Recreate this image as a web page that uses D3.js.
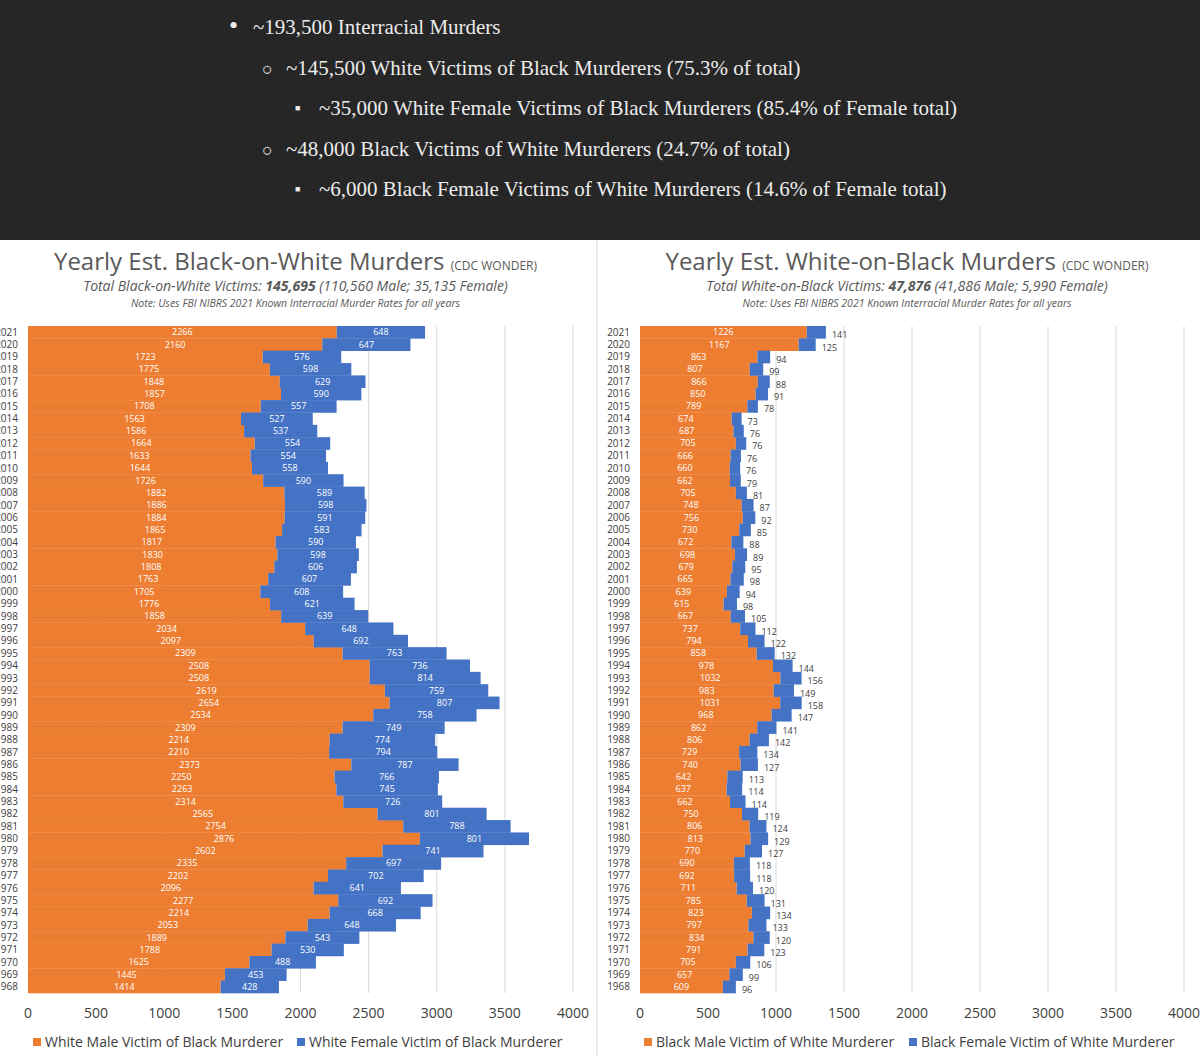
<!DOCTYPE html>
<html>
<head>
<meta charset="utf-8">
<script src="https://cdn.jsdelivr.net/npm/d3@7"></script>
<style>
  body { margin: 0; background: #fff; }
  svg { display: block; }
</style>
</head>
<body>
<svg width="1200" height="1056"></svg>
<script>
// years from top (2021) to bottom (1968)
const years = d3.range(2021, 1967, -1);

const bwMale = [2266, 2160, 1723, 1775, 1848, 1857, 1708, 1563, 1586, 1664, 1633, 1644, 1726, 1882, 1886, 1884, 1865, 1817, 1830, 1808, 1763, 1705, 1776, 1858, 2034, 2097, 2309, 2508, 2508, 2619, 2654, 2534, 2309, 2214, 2210, 2373, 2250, 2263, 2314, 2565, 2754, 2876, 2602, 2335, 2202, 2096, 2277, 2214, 2053, 1889, 1788, 1625, 1445, 1414];
const bwFemale = [648, 647, 576, 598, 629, 590, 557, 527, 537, 554, 554, 558, 590, 589, 598, 591, 583, 590, 598, 606, 607, 608, 621, 639, 648, 692, 763, 736, 814, 759, 807, 758, 749, 774, 794, 787, 766, 745, 726, 801, 788, 801, 741, 697, 702, 641, 692, 668, 648, 543, 530, 488, 453, 428];

const wbMale = [1226, 1167, 863, 807, 866, 850, 789, 674, 687, 705, 666, 660, 662, 705, 748, 756, 730, 672, 698, 679, 665, 639, 615, 667, 737, 794, 858, 978, 1032, 983, 1031, 968, 862, 806, 729, 740, 642, 637, 662, 750, 806, 813, 770, 690, 692, 711, 785, 823, 797, 834, 791, 705, 657, 609];
const wbFemale = [141, 125, 94, 99, 88, 91, 78, 73, 76, 76, 76, 76, 79, 81, 87, 92, 85, 88, 89, 95, 98, 94, 98, 105, 112, 122, 132, 144, 156, 149, 158, 147, 141, 142, 134, 127, 113, 114, 114, 119, 124, 129, 127, 118, 118, 120, 131, 134, 133, 120, 123, 106, 99, 96];

const xTicks = [0, 500, 1000, 1500, 2000, 2500, 3000, 3500, 4000];

const bannerLines = [
  { mark: '•', text: '~193,500 Interracial Murders', level: 0 },
  { mark: '○', text: '~145,500 White Victims of Black Murderers (75.3% of total)', level: 1 },
  { mark: '■', text: '~35,000 White Female Victims of Black Murderers (85.4% of Female total)', level: 2 },
  { mark: '○', text: '~48,000 Black Victims of White Murderers (24.7% of total)', level: 1 },
  { mark: '■', text: '~6,000 Black Female Victims of White Murderers (14.6% of Female total)', level: 2 }
];

const orange = '#ED7D31';
const blue = '#4472C4';
const font = "'Open Sans', 'Noto Sans', sans-serif";

const svg = d3.select('svg');

// dark banner
svg.append('rect').attr('width', 1200).attr('height', 240).attr('fill', '#262626');
const banner = svg.append('g').attr('font-family', "'Liberation Serif', 'DejaVu Serif', serif").attr('fill', '#ececec');
const markSize = [26, 18, 9];
bannerLines.forEach((l, i) => {
  const xm = 229 + l.level * 33;
  const y = 34 + i * 40.5;
  banner.append('text').attr('x', xm).attr('y', l.level === 2 ? y - 4 : y).attr('font-size', markSize[l.level]).text(l.mark);
  banner.append('text').attr('x', 253 + l.level * 33).attr('y', y).attr('font-size', 21).text(l.text);
});

// panel divider
svg.append('line').attr('x1', 597).attr('x2', 597).attr('y1', 240).attr('y2', 1056).attr('stroke', '#d9d9d9');

const drawPanel = p => {
  const g = svg.append('g');
  const x = d3.scaleLinear().domain([0, 4000]).range(p.xRange);
  const y = d3.scaleBand().domain(years).range([326, 993]).padding(0);
  const cx = (p.xRange[0] + p.xRange[1]) / 2 - 5;

  // title
  const t = g.append('text').attr('x', cx).attr('y', 270).attr('text-anchor', 'middle')
    .attr('font-family', font).attr('fill', '#595959');
  t.append('tspan').attr('font-size', 24).text(p.title + ' ');
  t.append('tspan').attr('font-size', 12).text('(CDC WONDER)');

  const s = g.append('text').attr('x', cx).attr('y', 291).attr('text-anchor', 'middle')
    .attr('font-family', font).attr('font-style', 'italic').attr('font-size', 14).attr('fill', '#595959');
  s.append('tspan').text(p.subtitle[0]);
  s.append('tspan').attr('font-weight', 'bold').text(p.subtitle[1]);
  s.append('tspan').text(p.subtitle[2]);

  g.append('text').attr('x', cx).attr('y', 307).attr('text-anchor', 'middle')
    .attr('font-family', font).attr('font-style', 'italic').attr('font-size', 10.5).attr('fill', '#595959')
    .text('Note: Uses FBI NIBRS 2021 Known Interracial Murder Rates for all years');

  // gridlines
  g.append('g').selectAll('line').data(xTicks.slice(1)).join('line')
    .attr('x1', d => x(d)).attr('x2', d => x(d)).attr('y1', 326).attr('y2', 993)
    .attr('stroke', '#d9d9d9');

  // bars
  g.append('g').selectAll('rect').data(years).join('rect')
    .attr('x', x(0)).attr('y', d => y(d))
    .attr('width', (d, i) => x(p.male[i]) - x(0)).attr('height', y.bandwidth() + 0.3)
    .attr('fill', orange);
  g.append('g').selectAll('rect').data(years).join('rect')
    .attr('x', (d, i) => x(p.male[i])).attr('y', d => y(d))
    .attr('width', (d, i) => x(p.male[i] + p.female[i]) - x(p.male[i])).attr('height', y.bandwidth() + 0.3)
    .attr('fill', blue);

  // labels
  const lab = g.append('g').attr('font-family', font).attr('font-size', 9);
  lab.selectAll('text.m').data(years).join('text').attr('class', 'm')
    .attr('x', (d, i) => (x(0) + x(p.male[i])) / 2).attr('y', d => y(d) + y.bandwidth() / 2)
    .attr('dy', '0.35em').attr('text-anchor', 'middle').attr('fill', '#fff')
    .text((d, i) => p.male[i]);
  lab.selectAll('text.f').data(years).join('text').attr('class', 'f')
    .attr('x', (d, i) => p.outside ? x(p.male[i] + p.female[i]) + 6 : (x(p.male[i]) + x(p.male[i] + p.female[i])) / 2)
    .attr('y', d => y(d) + y.bandwidth() / 2 + (p.outside ? 3 : 0))
    .attr('dy', '0.35em').attr('text-anchor', p.outside ? 'start' : 'middle')
    .attr('fill', p.outside ? '#404040' : '#fff')
    .text((d, i) => p.female[i]);

  // y axis (year labels); the left panel is cropped at the page edge as in the source
  g.append('g').attr('font-family', font).attr('font-size', 10).attr('fill', '#404040')
    .selectAll('text').data(years).join('text')
    .attr('x', p.xRange[0] - 10).attr('y', d => y(d) + y.bandwidth() / 2)
    .attr('dy', '0.35em').attr('text-anchor', 'end').text(d => d);

  // x axis
  g.append('g').attr('font-family', font).attr('font-size', 14).attr('fill', '#404040')
    .selectAll('text').data(xTicks).join('text')
    .attr('x', d => x(d)).attr('y', 1018).attr('text-anchor', 'middle').text(d => d);

  // legend
  const lg = g.append('g').attr('font-family', font).attr('font-size', 14).attr('fill', '#404040');
  p.legend.forEach((l, i) => {
    lg.append('rect').attr('x', l.x).attr('y', 1038).attr('width', 8).attr('height', 8).attr('fill', i ? blue : orange);
    lg.append('text').attr('x', l.x + 12).attr('y', 1047).text(l.text);
  });
};

drawPanel({
  xRange: [28, 573],
  male: bwMale,
  female: bwFemale,
  outside: false,
  title: 'Yearly Est. Black-on-White Murders',
  subtitle: ['Total Black-on-White Victims: ', '145,695', ' (110,560 Male; 35,135 Female)'],
  legend: [{ x: 33, text: 'White Male Victim of Black Murderer' }, { x: 297, text: 'White Female Victim of Black Murderer' }]
});

drawPanel({
  xRange: [640, 1184],
  male: wbMale,
  female: wbFemale,
  outside: true,
  title: 'Yearly Est. White-on-Black Murders',
  subtitle: ['Total White-on-Black Victims: ', '47,876', ' (41,886 Male; 5,990 Female)'],
  legend: [{ x: 644, text: 'Black Male Victim of White Murderer' }, { x: 909, text: 'Black Female Victim of White Murderer' }]
});
</script>
</body>
</html>
